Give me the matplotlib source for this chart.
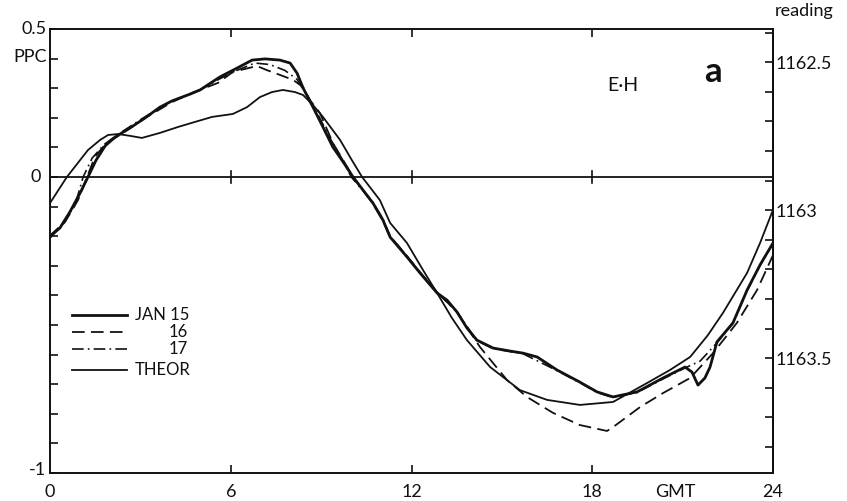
import matplotlib
matplotlib.use("Agg")
import matplotlib.pyplot as plt
import numpy as np
from matplotlib.lines import Line2D

plt.rcParams['font.family'] = ['Lato', 'DejaVu Sans']

# Hour of day (GMT) and tidal tilt in PPC for each record
hours_jan15 = [0, 0.33, 0.66, 1.0, 1.26, 1.53, 1.83, 2.16, 2.66, 3.15, 3.65, 4.05, 4.65, 4.98,
               5.64, 6.21, 6.71, 7.14, 7.63, 7.97, 8.20, 8.40, 8.73, 9.06, 9.39, 9.73, 10.06,
               10.72, 11.05, 11.29, 11.85, 12.28, 12.85, 13.18, 13.51, 13.84, 14.17, 14.71,
               15.27, 15.70, 16.17, 16.83, 17.59, 18.16, 18.69, 19.49, 20.35, 21.08, 21.31,
               21.51, 21.74, 21.91, 22.14, 22.67, 23.14, 23.57, 24.0]
ppc_jan15 = [-0.200, -0.172, -0.118, -0.054, 0.0, 0.057, 0.105, 0.135, 0.166, 0.199, 0.236,
             0.257, 0.280, 0.294, 0.338, 0.368, 0.395, 0.399, 0.395, 0.385, 0.351, 0.301,
             0.236, 0.169, 0.101, 0.051, 0.0, -0.088, -0.145, -0.203, -0.270, -0.324, -0.392,
             -0.416, -0.456, -0.510, -0.551, -0.578, -0.588, -0.595, -0.608, -0.652, -0.693,
             -0.726, -0.743, -0.726, -0.679, -0.642, -0.659, -0.703, -0.679, -0.642, -0.557,
             -0.493, -0.382, -0.297, -0.223]

hours_jan16 = [0, 0.50, 0.93, 1.23, 1.49, 1.79, 2.06, 2.72, 3.15, 4.05, 4.71, 5.58, 6.07, 6.47,
               6.87, 7.20, 7.63, 8.07, 8.40, 8.63, 8.96, 9.39, 9.73, 10.06, 10.72, 11.05, 11.29,
               11.85, 12.28, 12.85, 13.51, 14.27, 15.17, 15.83, 16.70, 17.59, 18.49, 18.69,
               19.59, 20.35, 21.25, 22.01, 22.80, 23.47, 24.0]
ppc_jan16 = [-0.206, -0.152, -0.078, 0.0, 0.068, 0.105, 0.125, 0.169, 0.199, 0.253, 0.284,
             0.318, 0.355, 0.365, 0.375, 0.361, 0.345, 0.328, 0.304, 0.260, 0.216, 0.115,
             0.057, 0.0, -0.090, -0.148, -0.200, -0.267, -0.321, -0.389, -0.456, -0.574,
             -0.686, -0.743, -0.797, -0.838, -0.858, -0.845, -0.777, -0.730, -0.679, -0.595,
             -0.493, -0.382, -0.264]

hours_jan17 = [0, 0.40, 0.83, 1.10, 1.40, 1.80, 2.20, 3.10, 4.00, 5.00, 5.60, 6.20, 6.80, 7.30,
               7.80, 8.20, 8.50, 8.90, 9.30, 9.70, 10.0, 10.72, 11.05, 11.29, 11.85, 12.28,
               12.85, 13.51, 14.17, 14.71, 15.70, 16.83, 17.59, 18.16, 18.69, 19.49, 20.35,
               21.08, 21.58, 22.14, 22.67, 23.14, 23.57, 24.0]
ppc_jan17 = [-0.198, -0.160, -0.095, 0.0, 0.064, 0.110, 0.140, 0.200, 0.255, 0.295, 0.330,
             0.360, 0.385, 0.380, 0.360, 0.330, 0.280, 0.210, 0.130, 0.060, 0.0, -0.086,
             -0.142, -0.200, -0.268, -0.322, -0.390, -0.456, -0.553, -0.580, -0.597, -0.654,
             -0.695, -0.728, -0.745, -0.728, -0.682, -0.645, -0.622, -0.560, -0.495, -0.384,
             -0.299, -0.225]

hours_theor = [0, 0.56, 1.26, 1.66, 1.93, 2.26, 2.66, 3.05, 3.65, 4.25, 4.81, 5.38, 6.07, 6.54,
               6.97, 7.37, 7.73, 8.13, 8.40, 8.73, 9.06, 9.63, 10.02, 10.36, 10.95, 11.29,
               11.85, 12.38, 12.85, 13.34, 13.84, 14.61, 15.60, 16.50, 17.59, 18.69, 19.82,
               20.58, 21.25, 21.84, 22.34, 23.14, 23.57, 24.0]
ppc_theor = [-0.088, 0.0, 0.091, 0.125, 0.142, 0.145, 0.139, 0.132, 0.149, 0.169, 0.186,
             0.203, 0.213, 0.236, 0.270, 0.287, 0.294, 0.287, 0.277, 0.243, 0.203, 0.125,
             0.057, 0.0, -0.078, -0.155, -0.223, -0.314, -0.392, -0.476, -0.551, -0.642,
             -0.720, -0.753, -0.770, -0.760, -0.696, -0.652, -0.608, -0.534, -0.459, -0.324,
             -0.223, -0.111]

x_ticks = [0, 6, 12, 18, 24]
x_tick_labels = ['0', '6', '12', '18', '24']
reading_ticks = [1162.5, 1163.0, 1163.5]
reading_labels = ['1162.5', '1163', '1163.5']
reading_zero = 1162.888  # gravimeter reading at zero PPC

legend_labels = ['JAN 15', '16', '17', 'THEOR']

fig = plt.figure(figsize=(8.47, 5.01), dpi=100)
ax = fig.add_axes([50 / 847, 1 - 473 / 501, 723 / 847, 444 / 501])

ink = '#111111'
dash16 = (7, 3.5)
dash17 = (7, 2.5, 1, 2.5)
ax.plot(hours_jan15, ppc_jan15, color=ink, lw=2.0, solid_capstyle='round')
ax.plot(hours_jan16, ppc_jan16, color=ink, lw=1.3, dashes=dash16)
ax.plot(hours_jan17, ppc_jan17, color=ink, lw=1.2, dashes=dash17)
ax.plot(hours_theor, ppc_theor, color=ink, lw=1.3)

ax.axhline(0, color=ink, lw=1.3)

ax.set_xlim(0, 24)
ax.set_ylim(-1, 0.5)

for s in ax.spines.values():
    s.set_linewidth(1.4)
    s.set_color(ink)

# x ticks: inward on bottom and top, only interior hours
ax.set_xticks([6, 12, 18])
ax.set_xticklabels([])
ax.tick_params(axis='x', direction='in', length=6, width=1.2, top=True, bottom=True,
               colors=ink)
ax.set_yticks(np.arange(-1.0, 0.51, 0.1))
ax.set_yticklabels([])
ax.tick_params(axis='y', direction='in', length=6, width=1.2, left=True, right=False,
               colors=ink)

# ticks across the zero line
for h in [6, 12, 18]:
    ax.plot([h, h], [-0.02, 0.02], color=ink, lw=1.2)

fs = 13
tr = ax.get_xaxis_transform()
for h, lab in zip(x_ticks, x_tick_labels):
    ax.text(h, -0.025, lab, transform=tr, ha='center', va='top', fontsize=fs, color=ink)
ax.text(20.75, -0.025, 'GMT', transform=tr, ha='center', va='top', fontsize=fs, color=ink)

ty = ax.get_yaxis_transform()
ax.text(-0.005, 0.5, '0.5', transform=ty, ha='right', va='center', fontsize=fs, color=ink)
ax.text(-0.005, 0.405, 'PPC', transform=ty, ha='right', va='center', fontsize=fs, color=ink)
ax.text(-0.012, 0.0, '0', transform=ty, ha='right', va='center', fontsize=fs, color=ink)
ax.text(-0.006, -0.99, '-1', transform=ty, ha='right', va='center', fontsize=fs, color=ink)

# gravimeter reading scale on the right (increasing downward)
sec = ax.secondary_yaxis('right', functions=(lambda p: reading_zero - p,
                                             lambda r: reading_zero - r))
sec.set_yticks(reading_ticks)
sec.set_yticklabels(reading_labels)
sec.set_yticks(np.arange(1162.4, 1163.91, 0.1), minor=True)
sec.tick_params(axis='y', which='both', direction='in', length=6, width=1.2,
                labelsize=fs, pad=2, colors=ink)
sec.spines['right'].set_linewidth(1.4)
ax.text(1.002, 1.022, 'reading', transform=ax.transAxes, ha='left', va='bottom',
        fontsize=fs, color=ink)

ax.text(19.0, 0.31, 'E·H', ha='center', va='center', fontsize=14, color=ink)
ax.text(22.0, 0.355, 'a', ha='center', va='center', fontsize=25, fontweight='bold',
        color=ink)

# legend key
styles = [dict(lw=2.0), dict(lw=1.3, dashes=dash16),
          dict(lw=1.2, dashes=dash17), dict(lw=1.3)]
rows = [0.356, 0.3176, 0.279, 0.232]
for lab, st, yy in zip(legend_labels, styles, rows):
    ax.add_line(Line2D([0.030, 0.1065], [yy, yy], transform=ax.transAxes, color=ink, **st))
    if lab in ('16', '17'):
        ax.text(0.191, yy, lab, transform=ax.transAxes, ha='right', va='center',
                fontsize=12, color=ink)
    else:
        ax.text(0.1176, yy, lab, transform=ax.transAxes, ha='left', va='center',
                fontsize=12, color=ink)

fig.savefig('out.png', dpi=100, facecolor='white')
